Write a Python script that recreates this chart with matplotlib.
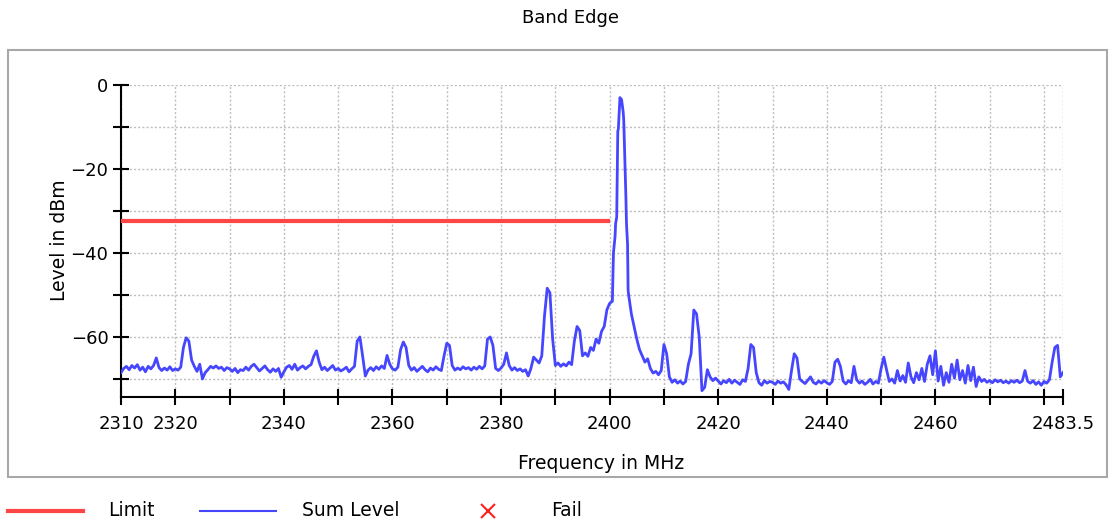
import numpy as np
import matplotlib
matplotlib.use("Agg")
import matplotlib.pyplot as plt
from matplotlib.lines import Line2D
from matplotlib.patches import Rectangle


#DATA

#sweep points every 0.5 MHz, one row per 10 MHz
freq_start = 2310.0
freq_step = 0.5

level_2310 = [-68.5, -67.5, -67.0, -67.8, -66.8, -67.4, -66.6, -67.9, -67.2, -68.3,
              -67.0, -67.6, -66.8, -65.0, -67.3, -68.0, -67.4, -67.9, -67.1, -68.0]
level_2320 = [-67.6, -67.9, -67.2, -62.5, -60.2, -61.0, -65.5, -67.0, -68.2, -66.5,
              -70.0, -68.5, -67.8, -67.0, -67.4, -66.9, -67.5, -67.2, -68.0, -67.3]
level_2330 = [-67.6, -68.2, -67.5, -68.5, -67.8, -68.0, -67.2, -67.9, -67.0, -66.5,
              -67.3, -68.1, -67.5, -66.9, -67.8, -68.4, -67.6, -68.2, -67.5, -69.6]
level_2340 = [-68.3, -67.2, -66.8, -67.7, -66.5, -67.9, -67.3, -66.9, -67.6, -67.0,
              -66.6, -64.6, -63.3, -66.0, -67.8, -67.2, -68.0, -67.4, -66.8, -67.9]
level_2350 = [-67.5, -68.1, -67.7, -67.2, -68.3, -67.6, -67.0, -61.0, -60.0, -64.5,
              -69.3, -67.9, -67.3, -68.0, -67.1, -67.7, -66.9, -67.5, -64.4, -66.5]
level_2360 = [-67.6, -67.9, -67.2, -63.0, -61.2, -62.5, -66.8, -67.9, -67.3, -68.2,
              -67.6, -67.0, -67.8, -68.3, -67.4, -67.9, -67.1, -67.7, -68.0, -64.5]
level_2370 = [-61.5, -62.0, -66.8, -67.9, -67.4, -67.8, -67.1, -67.6, -67.3, -67.9,
              -67.2, -67.7, -67.0, -67.6, -66.9, -60.5, -60.0, -62.0, -67.5, -68.0]
level_2380 = [-67.4, -66.5, -63.8, -66.8, -67.9, -67.3, -68.0, -67.6, -68.2, -67.8,
              -69.3, -67.5, -64.8, -65.5, -66.2, -64.5, -55.0, -48.4, -49.5, -60.5]
level_2390 = [-66.8, -66.2, -67.0, -66.4, -66.9, -66.0, -66.6, -61.0, -57.5, -58.5,
              -64.5, -63.8, -64.6, -62.5, -63.2, -60.5, -61.5, -58.7, -57.5, -53.5]
level_2400 = [-52.0, -51.5, -36.0, -11.0, -3.2, -6.5, -27.0, -50.0, -54.5, -57.5,
              -60.5, -63.0, -64.5, -66.0, -65.2, -67.5, -68.6, -68.2, -69.0, -68.0]
level_2410 = [-61.8, -64.0, -69.5, -70.8, -70.2, -71.0, -70.5, -71.2, -70.6, -66.5,
              -64.0, -53.6, -54.5, -60.0, -72.8, -72.0, -67.8, -69.5, -70.4, -69.8]
level_2420 = [-70.5, -71.2, -70.4, -70.9, -70.1, -71.0, -70.3, -70.8, -71.3, -70.2,
              -70.6, -67.5, -61.8, -62.5, -68.5, -70.9, -71.5, -70.4, -71.0, -70.6]
level_2430 = [-70.8, -71.3, -70.5, -71.0, -70.7, -71.4, -72.5, -68.0, -64.0, -65.0,
              -70.0, -70.6, -71.1, -70.3, -69.5, -70.8, -71.2, -70.5, -71.0, -70.4]
level_2440 = [-70.9, -71.3, -70.6, -66.0, -65.3, -67.0, -70.5, -71.2, -70.4, -70.9,
              -67.0, -70.2, -71.0, -70.5, -71.3, -70.8, -70.1, -71.2, -70.6, -71.0]
level_2450 = [-67.5, -64.8, -67.8, -70.6, -70.0, -71.0, -68.0, -70.5, -69.2, -70.8,
              -66.2, -69.5, -70.9, -68.5, -70.2, -67.5, -70.6, -66.5, -64.5, -69.0]
level_2460 = [-63.3, -70.5, -67.0, -71.5, -68.5, -70.8, -66.5, -69.8, -65.5, -70.2,
              -68.0, -71.0, -66.8, -70.4, -67.2, -71.8, -69.5, -70.6, -70.1, -70.8]
level_2470 = [-70.4, -70.9, -70.2, -70.7, -70.3, -70.9, -70.5, -71.0, -70.4, -70.8,
              -70.3, -70.9, -70.5, -68.0, -70.6, -71.0, -70.4, -71.3, -70.7, -71.5]
level_2480 = [-70.6, -71.0, -70.2, -66.0, -62.5, -62.0, -69.5, -68.5]

#extra points on the flanks of the carrier
carrier_freq = [2400.7, 2401.1, 2401.3, 2401.6, 2401.9, 2402.2, 2402.6, 2403.1, 2403.3, 2403.4]
carrier_level = [-40.0, -33.0, -31.5, -10.5, -3.0, -3.5, -8.5, -33.0, -38.0, -48.8]

limit_freq = [2310.0, 2400.0]
limit_level = [-32.5, -32.5]

x_ticks = [2310, 2320, 2330, 2340, 2350, 2360, 2370, 2380, 2390, 2400,
           2410, 2420, 2430, 2440, 2450, 2460, 2470, 2480, 2483.5]
x_labels = ["2310", "2320", "", "2340", "", "2360", "", "2380", "", "2400",
            "", "2420", "", "2440", "", "2460", "", "", "2483.5"]
y_major = [0, -20, -40, -60]
y_minor = [-10, -30, -50, -70]


#putting the sweep together

sweep = (level_2310 + level_2320 + level_2330 + level_2340 + level_2350 + level_2360
         + level_2370 + level_2380 + level_2390 + level_2400 + level_2410 + level_2420
         + level_2430 + level_2440 + level_2450 + level_2460 + level_2470 + level_2480)
f_sweep = freq_start + freq_step * np.arange(len(sweep))

f_all = np.concatenate([f_sweep, carrier_freq])
l_all = np.concatenate([sweep, carrier_level])
order = np.argsort(f_all)
f_all = f_all[order]
l_all = l_all[order]


#PLOT

W, H = 1113, 528
fig = plt.figure(figsize=(W / 100, H / 100), dpi=100)
ax = fig.add_axes([121 / W, 1 - 397 / H, 942 / W, 312 / H])

blue = '#4646ff'
red = '#ff4646'

ax.plot(limit_freq, limit_level, color=red, lw=3, solid_capstyle='butt', zorder=3)
ax.plot(f_all, l_all, color=blue, lw=2.0, zorder=4)

ax.set_xlim(2310, 2483.5)
ax.set_ylim(-74.3, 0)

ax.set_xticks(x_ticks)
ax.set_xticklabels(x_labels)
ax.set_yticks(y_major)
ax.set_yticks(y_minor, minor=True)

ax.tick_params(axis='both', which='both', direction='inout', length=12, width=1.5,
               labelsize=13, color='black')
ax.tick_params(axis='x', pad=7)
ax.tick_params(axis='y', pad=3)

for s in ['top', 'right']:
    ax.spines[s].set_visible(False)
for s in ['left', 'bottom']:
    ax.spines[s].set_linewidth(1.5)

ax.grid(True, which='both', color='#bdbdbd', linestyle=(0, (1.5, 1.5)), linewidth=1.0)
ax.set_axisbelow(True)

ax.set_xlabel("Frequency in MHz", fontsize=13.5, va='center')
ax.xaxis.set_label_coords(0.51, -0.212)
ax.set_ylabel("Level in dBm", fontsize=13.5, va='center')
ax.yaxis.set_label_coords(-0.065, 0.503)

#grey frame round the plot
fig.add_artist(Rectangle((8 / W, 1 - 477 / H), 1099 / W, 427 / H, transform=fig.transFigure,
                         fill=False, edgecolor='#a8a8a8', lw=1.5))

fig.text(570 / W, 1 - 18 / H, "Band Edge", ha='center', va='center', fontsize=13)

#legend below the frame
ly = 1 - 511 / H
fig.add_artist(Line2D([8 / W, 83 / W], [ly, ly], color=red, lw=3, transform=fig.transFigure))
fig.text(108 / W, ly, "Limit", ha='left', va='center', fontsize=13.5)
fig.add_artist(Line2D([200 / W, 276 / W], [ly, ly], color=blue, lw=1.5, transform=fig.transFigure))
fig.text(302 / W, ly, "Sum Level", ha='left', va='center', fontsize=13.5)
fig.add_artist(Line2D([488 / W], [ly], color='#ff2020', marker='x', markersize=10,
                      markeredgewidth=1.5, linestyle='none', transform=fig.transFigure))
fig.text(551 / W, ly, "Fail", ha='left', va='center', fontsize=13.5)

fig.savefig("out.png", dpi=100)
